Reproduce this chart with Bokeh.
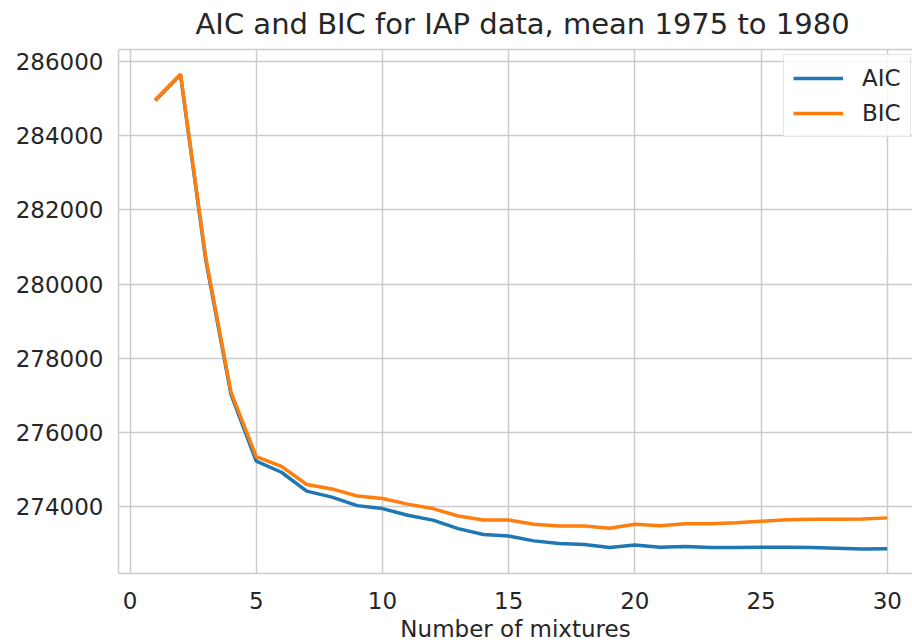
from bokeh.plotting import figure
from bokeh.models import Range1d, FixedTicker, Legend, LegendItem, BasicTickFormatter, LinearAxis
from bokeh.embed import file_html
from bokeh.resources import INLINE

mixtures = list(range(1, 31))
aic = [284950, 285640, 280650, 277030, 275230, 274930, 274420, 274260, 274030, 273950,
       273770, 273640, 273410, 273250, 273210, 273080, 273010, 272980, 272900, 272970,
       272910, 272930, 272900, 272900, 272910, 272910, 272900, 272880, 272860, 272870]
bic = [284960, 285660, 280720, 277090, 275350, 275090, 274600, 274480, 274290, 274220,
       274070, 273950, 273750, 273640, 273640, 273530, 273480, 273480, 273420, 273530,
       273490, 273540, 273540, 273570, 273610, 273650, 273660, 273660, 273670, 273700]
x_ticks = [0, 5, 10, 15, 20, 25, 30]
y_ticks = [274000, 276000, 278000, 280000, 282000, 284000, 286000]

TXT = "#262626"
GRID = "#cccccc"
FONT = "DejaVu Sans"

p = figure(width=912, height=644, output_backend="svg", toolbar_location=None,
           x_range=Range1d(-0.456, 31.0), y_range=Range1d(272201, 286322),
           min_border_left=118, min_border_right=0, min_border_top=48, min_border_bottom=70,
           title="AIC and BIC for IAP data, mean 1975 to 1980")

p.title.text_font = FONT
p.title.text_font_size = "29px"
p.title.text_font_style = "normal"
p.title.text_color = TXT
p.title.align = "left"
p.title.offset = 77
p.title.standoff = 13
p.title.vertical_align = "top"

p.outline_line_color = None
p.background_fill_color = "white"
p.border_fill_color = "white"

xa = p.xaxis[0]
ya = p.yaxis[0]

for ax in (xa, ya):
    ax.axis_line_color = GRID
    ax.axis_line_width = 1.5
    ax.major_tick_line_color = None
    ax.minor_tick_line_color = None
    ax.major_tick_out = 0
    ax.major_tick_in = 0
    ax.minor_tick_out = 0
    ax.major_label_text_font = FONT
    ax.major_label_text_font_size = "23px"
    ax.major_label_text_color = TXT

xa.ticker = FixedTicker(ticks=x_ticks)
ya.ticker = FixedTicker(ticks=y_ticks)
ya.formatter = BasicTickFormatter(use_scientific=False)
xa.major_label_standoff = 18
ya.major_label_standoff = 15

xa.axis_label = "Number of mixtures"
xa.axis_label_text_font = FONT
xa.axis_label_text_font_size = "23px"
xa.axis_label_text_font_style = "normal"
xa.axis_label_text_color = TXT
xa.axis_label_standoff = 4

# top spine only (no ticks, no labels)
top = LinearAxis(ticker=FixedTicker(ticks=[]), axis_line_color=GRID, axis_line_width=1.5,
                 major_tick_line_color=None, minor_tick_line_color=None,
                 major_tick_out=0, major_tick_in=0, minor_tick_out=0,
                 major_label_standoff=0)
p.add_layout(top, "above")

p.xgrid.ticker = FixedTicker(ticks=x_ticks)
p.ygrid.ticker = FixedTicker(ticks=y_ticks)
p.grid.grid_line_color = GRID
p.grid.grid_line_width = 1.5

r_aic = p.line(mixtures, aic, line_color="#1f77b4", line_width=3.5)
r_bic = p.line(mixtures, bic, line_color="#ff7f0e", line_width=3.5)

legend = Legend(items=[LegendItem(label="AIC", renderers=[r_aic]),
                       LegendItem(label="BIC", renderers=[r_bic])],
                location=(665, 436))
legend.label_text_font = FONT
legend.label_text_font_size = "23px"
legend.label_text_color = TXT
legend.glyph_width = 50
legend.glyph_height = 28
legend.label_height = 28
legend.label_standoff = 19
legend.spacing = 7
legend.padding = 9
legend.margin = 0
legend.border_line_color = GRID
legend.border_line_width = 1.5
legend.background_fill_color = "white"
legend.background_fill_alpha = 0.8
p.add_layout(legend)

open("out.html", "w").write(file_html(p, INLINE))
